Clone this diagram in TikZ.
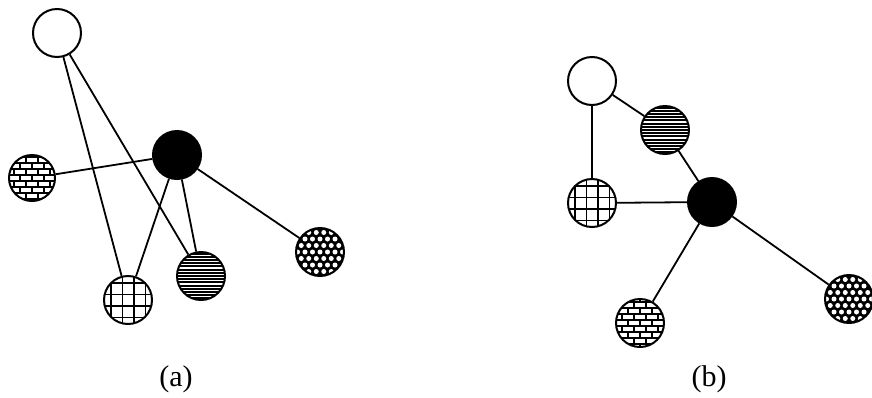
\documentclass[tikz,border=0pt]{standalone}
\usepackage{fontspec}
\setmainfont{Liberation Serif}
\begin{document}
\begin{tikzpicture}[x=1pt,y=-1pt,line width=1.6pt]
\tikzset{
  ball/.style={circle, draw, line width=2pt, minimum size=48pt, inner sep=0pt, fill=white},
  solidball/.style={ball, fill=black},
  brickball/.style={ball, path picture={
    \begin{scope}[shift={(path picture bounding box.center)}, line width=1.4pt]
      \foreach \i in {-5,...,4} { \draw (-30,\i*6+3) -- (30,\i*6+3); }
      \foreach \i in {-5,...,5} {
        \pgfmathsetmacro\brickoff{mod(\i+10,2)*6}
        \foreach \j in {-3,...,3} { \draw (\j*12+\brickoff,\i*6-3) -- ++(0,6); }
      }
    \end{scope}}},
  gridball/.style={ball, path picture={
    \begin{scope}[shift={(path picture bounding box.center)}, line width=1.5pt]
      \foreach \k in {-17.25,-5.75,5.75,17.25} {
        \draw (\k,-30) -- (\k,30);
        \draw (-30,\k) -- (30,\k);
      }
    \end{scope}}},
  lineball/.style={ball, path picture={
    \begin{scope}[shift={(path picture bounding box.center)}, line width=2pt]
      \foreach \k in {-8,...,8} { \draw (-30,\k*3.2) -- (30,\k*3.2); }
    \end{scope}}},
  dotball/.style={ball, fill=black, path picture={
    \begin{scope}[shift={(path picture bounding box.center)}]
      \foreach \i in {-4,...,4} {
        \pgfmathsetmacro\dotoff{mod(\i+10,2)*3.75}
        \foreach \j in {-4,...,4} { \fill[white] (\j*7.5+\dotoff,\i*6.5) circle (2.5); }
      }
    \end{scope}}},
  caption/.style={font=\fontsize{30}{34}\selectfont, inner sep=0pt},
  link/.style={line width=1.8pt}
}
\useasboundingbox (0,0) rectangle (872,397);

% panel (a)
\node[ball]      (aW) at (57,33)   {};
\node[solidball] (aK) at (177,155) {};
\node[brickball, minimum size=46pt] (aB) at (32,178) {};
\node[gridball]  (aG) at (128,300) {};
\node[lineball]  (aH) at (201,276) {};
\node[dotball]   (aD) at (320,252) {};
\draw[link] (aW) -- (aG);
\draw[link] (aW) -- (aH);
\draw[link] (aB) -- (aK);
\draw[link] (aK) -- (aG);
\draw[link] (aK) -- (aH);
\draw[link] (aK) -- (aD);
\node[caption] (capA) at (176,379) {(a)};

% panel (b)
\node[ball]      (bW) at (592,81)  {};
\node[lineball]  (bH) at (665,130) {};
\node[gridball]  (bG) at (592,203) {};
\node[solidball] (bK) at (712,202) {};
\node[brickball] (bB) at (640,323) {};
\node[dotball]   (bD) at (849,299) {};
\draw[link] (bW) -- (bH);
\draw[link] (bW) -- (bG);
\draw[link] (bH) -- (bK);
\draw[link] (bG) -- (bK);
\draw[link] (bK) -- (bB);
\draw[link] (bK) -- (bD);
\node[caption] (capB) at (709,379) {(b)};
\end{tikzpicture}
\end{document}
